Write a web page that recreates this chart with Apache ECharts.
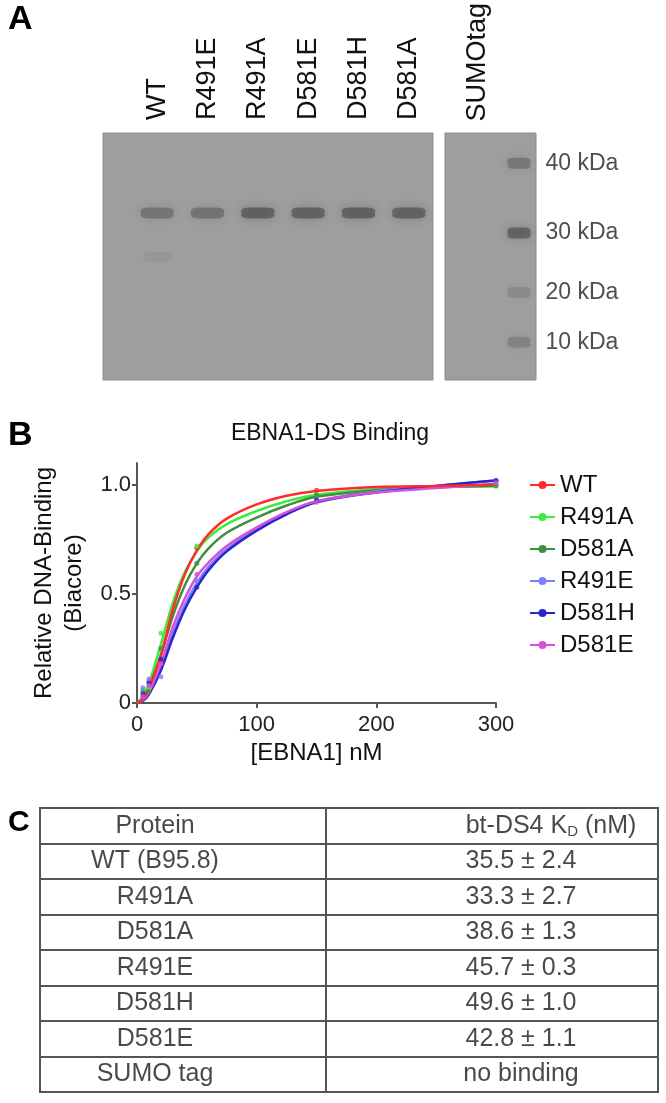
<!DOCTYPE html>
<html>
<head>
<meta charset="utf-8">
<script src="https://cdn.jsdelivr.net/npm/echarts@6.0.0/dist/echarts.min.js"></script>
<style>
  body { margin: 0; background: #fff; }
  #main { width: 666px; height: 1103px; }
</style>
</head>
<body>
<div id="main"></div>
<script>
// ---- panel A: gel ----
const lanes = ['WT', 'R491E', 'R491A', 'D581E', 'D581H', 'D581A'];
const bandPos = [32.4, 32.4, 32.4, 32.4, 32.4, 32.4];     // migration, % of gel length
const bandDensity = [0.42, 0.45, 0.62, 0.6, 0.62, 0.6];
const faintLane = 'WT';
const faintPos = 50.2;
const faintDensity = 0.08;
const rightLanes = ['SUMOtag', ''];
const markerLabels = ['40 kDa', '30 kDa', '20 kDa', '10 kDa'];
const markerPos = [11.7, 40.1, 64.4, 84.6];
const markerDensity = [0.4, 0.6, 0.22, 0.28];

// ---- panel B: binding curves ----
const names = ['WT', 'R491A', 'D581A', 'R491E', 'D581H', 'D581E'];
const conc = [5, 10, 20, 50, 150, 300];
const wtPts    = [0.03, 0.10, 0.19, 0.71, 0.975, 1.0];
const r491aPts = [0.06, 0.07, 0.32, 0.72, 0.955, 1.0];
const d581aPts = [0.05, 0.05, 0.25, 0.64, 0.955, 0.995];
const r491ePts = [0.07, 0.11, 0.12, 0.56, 0.93, 1.02];
const d581hPts = [0.04, 0.09, 0.20, 0.53, 0.93, 1.02];
const d581ePts = [0.03, 0.08, 0.18, 0.59, 0.92, 1.01];

const fitConc  = [0, 5, 10, 20, 30, 40, 50, 60, 75, 100, 125, 150, 200, 250, 300];
const wtFit    = [0, 0.02, 0.07, 0.22, 0.43, 0.59, 0.70, 0.775, 0.845, 0.91, 0.95, 0.972, 0.99, 0.995, 1.0];
const r491aFit = [0, 0.03, 0.09, 0.27, 0.46, 0.60, 0.695, 0.76, 0.82, 0.88, 0.925, 0.955, 0.98, 0.99, 0.995];
const d581aFit = [0, 0.02, 0.07, 0.22, 0.40, 0.54, 0.64, 0.71, 0.78, 0.85, 0.905, 0.945, 0.975, 0.99, 0.995];
const r491eFit = [0, 0.01, 0.045, 0.16, 0.32, 0.45, 0.55, 0.625, 0.705, 0.80, 0.87, 0.925, 0.97, 0.995, 1.02];
const d581hFit = [0, 0.01, 0.04, 0.15, 0.30, 0.43, 0.53, 0.61, 0.695, 0.79, 0.865, 0.92, 0.965, 0.995, 1.02];
const d581eFit = [0, 0.015, 0.05, 0.18, 0.35, 0.48, 0.58, 0.645, 0.72, 0.805, 0.875, 0.925, 0.965, 0.985, 1.005];

const colors = ['#ff2a2a', '#3cec3c', '#3f8f3f', '#7d7dff', '#2626cc', '#d84fd8'];
const pts = [wtPts, r491aPts, d581aPts, r491ePts, d581hPts, d581ePts];
const fits = [wtFit, r491aFit, d581aFit, r491eFit, d581hFit, d581eFit];

// ---- panel C: table ----
const tableRows = ['Protein', 'WT (B95.8)', 'R491A', 'D581A', 'R491E', 'D581H', 'D581E', 'SUMO tag'];
const kdValues = ['35.5 ± 2.4', '33.3 ± 2.7', '38.6 ± 1.3', '45.7 ± 0.3', '49.6 ± 1.0', '42.8 ± 1.1', 'no binding'];

const FONT = 'Liberation Sans, Arial, sans-serif';
const gray = a => 'rgba(55,55,55,' + a + ')';

const chart = echarts.init(document.getElementById('main'));

const hidden = { show: false };

const curveSeries = [];
names.forEach((n, i) => {
    curveSeries.push({
        name: n,
        type: 'line',
        xAxisIndex: 4, yAxisIndex: 4,
        data: fitConc.map((c, j) => [c, fits[i][j]]),
        smooth: 0.35,
        showSymbol: false,
        symbol: 'circle',
        symbolSize: 6,
        lineStyle: { width: 2.5, color: colors[i] },
        itemStyle: { color: colors[i] },
        z: n === 'WT' ? 4 : 3
    });
    curveSeries.push({
        name: n,
        type: 'scatter',
        xAxisIndex: 4, yAxisIndex: 4,
        data: conc.map((c, j) => [c, pts[i][j]]),
        symbolSize: 5,
        itemStyle: { color: colors[i] },
        z: 5
    });
});

const option = {
    animation: false,
    backgroundColor: '#fff',
    textStyle: { fontFamily: FONT },
    title: [
        { text: 'A', left: 3, top: -2, textStyle: { fontSize: 34, fontWeight: 'bold', color: '#000', fontFamily: FONT } },
        { text: 'B', left: 3, top: 414, textStyle: { fontSize: 34, fontWeight: 'bold', color: '#000', fontFamily: FONT } },
        { text: 'C', left: 3, top: 803, textStyle: { fontSize: 30, fontWeight: 'bold', color: '#000', fontFamily: FONT } },
        { text: 'EBNA1-DS Binding', left: 325, textAlign: 'center', top: 417,
          textStyle: { fontSize: 23, fontWeight: 'normal', color: '#111', fontFamily: FONT } }
    ],
    legend: {
        data: names,
        orient: 'vertical',
        left: 524, top: 468,
        itemWidth: 25, itemHeight: 10, itemGap: 8,
        textStyle: { fontSize: 24, lineHeight: 24, color: '#111', fontFamily: FONT }
    },
    grid: [
        { left: 103, top: 133, width: 330, height: 247, show: true, backgroundColor: '#9e9e9e', borderColor: '#929292', borderWidth: 1 },
        { left: 445, top: 133, width: 91, height: 247, show: true, backgroundColor: '#9e9e9e', borderColor: '#8a8a8a', borderWidth: 1 },
        { left: 132, top: 133, width: 302, height: 247 },
        { left: 457.5, top: 133, width: 82, height: 247 },
        { left: 137, right: 170, top: 463, bottom: 400 },
        { left: 40, top: 808, width: 286, height: 284, show: true, backgroundColor: '#fff', borderColor: '#555', borderWidth: 2 },
        { left: 326, top: 808, width: 332, height: 284, show: true, backgroundColor: '#fff', borderColor: '#555', borderWidth: 2 }
    ],
    xAxis: [
        { gridIndex: 0, type: 'value', show: false },
        { gridIndex: 1, type: 'value', show: false },
        { gridIndex: 2, type: 'category', data: lanes, position: 'top',
          axisLine: hidden, axisTick: hidden,
          axisLabel: { rotate: 90, margin: 13, fontSize: 27, color: '#111', interval: 0 } },
        { gridIndex: 3, type: 'category', data: rightLanes, position: 'top',
          axisLine: hidden, axisTick: hidden,
          axisLabel: { rotate: 90, margin: 13, fontSize: 27, color: '#111', interval: 0 } },
        { gridIndex: 4, type: 'value', min: 0, max: 300, interval: 100,
          name: '[EBNA1] nM', nameLocation: 'middle', nameGap: 38,
          nameTextStyle: { fontSize: 24, color: '#111' },
          axisLine: { lineStyle: { color: '#555', width: 2 } },
          axisTick: { length: 5, lineStyle: { color: '#555', width: 2 } },
          axisLabel: { fontSize: 22, color: '#222', margin: 11 },
          splitLine: hidden },
        { gridIndex: 5, type: 'category', data: ['c1'], show: false },
        { gridIndex: 6, type: 'category', data: ['c2'], show: false }
    ],
    yAxis: [
        { gridIndex: 0, type: 'value', show: false },
        { gridIndex: 1, type: 'value', show: false },
        { gridIndex: 2, type: 'value', min: 0, max: 100, inverse: true, show: false },
        { gridIndex: 3, type: 'value', min: 0, max: 100, inverse: true, show: false },
        { gridIndex: 4, type: 'value', min: 0, max: 1.1,
          name: 'Relative DNA-Binding\n(Biacore)', nameLocation: 'middle', nameGap: 40, nameRotate: 90,
          nameTextStyle: { fontSize: 24, lineHeight: 30, color: '#111', align: 'center' },
          axisLine: { show: true, lineStyle: { color: '#555', width: 2 } },
          axisTick: { show: true, length: 5, customValues: [0, 0.5, 1], lineStyle: { color: '#555', width: 2 } },
          axisLabel: { fontSize: 22, color: '#222', margin: 6, customValues: [0, 0.5, 1],
                       formatter: v => v === 0 ? '0' : v.toFixed(1) },
          splitLine: hidden },
        { gridIndex: 5, type: 'category', data: tableRows, inverse: true,
          axisLine: hidden, axisTick: { show: false, interval: 0 }, axisLabel: { show: false, interval: 0 },
          splitLine: { show: true, interval: 0, lineStyle: { color: '#555', width: 2 } } },
        { gridIndex: 6, type: 'category', data: tableRows, inverse: true,
          axisLine: hidden, axisTick: { show: false, interval: 0 }, axisLabel: { show: false, interval: 0 },
          splitLine: { show: true, interval: 0, lineStyle: { color: '#555', width: 2 } } }
    ],
    series: [
        // sample bands
        {
            type: 'scatter', xAxisIndex: 2, yAxisIndex: 2,
            symbol: 'roundRect', symbolSize: [33, 11],
            data: lanes.map((l, i) => ({
                value: [l, bandPos[i]],
                itemStyle: { color: gray(bandDensity[i]), shadowColor: gray(bandDensity[i]), shadowBlur: 10 }
            })).concat([{
                value: [faintLane, faintPos],
                symbolSize: [28, 10],
                itemStyle: { color: gray(faintDensity), shadowColor: gray(faintDensity), shadowBlur: 12 }
            }]),
            silent: true
        },
        // marker ladder
        {
            type: 'scatter', xAxisIndex: 3, yAxisIndex: 3,
            symbol: 'roundRect', symbolSize: [23, 11],
            data: markerPos.map((p, i) => ({
                name: markerLabels[i],
                value: ['', p],
                itemStyle: { color: gray(markerDensity[i]), shadowColor: gray(markerDensity[i]), shadowBlur: 10 }
            })),
            label: { show: true, position: 'right', distance: 15, formatter: '{b}',
                     fontSize: 23, color: '#222', fontFamily: FONT },
            silent: true
        },
        ...curveSeries,
        // table column 1
        {
            type: 'scatter', xAxisIndex: 5, yAxisIndex: 5,
            symbolSize: 1, itemStyle: { color: 'rgba(0,0,0,0)' },
            data: tableRows.map(r => ['c1', r]),
            label: { show: true, position: 'inside', offset: [-28, 0],
                     formatter: p => p.value[1], fontSize: 25, color: '#1a1a1a', fontFamily: FONT },
            silent: true
        },
        // table column 2 header
        {
            type: 'scatter', xAxisIndex: 6, yAxisIndex: 6,
            symbolSize: 1, itemStyle: { color: 'rgba(0,0,0,0)' },
            data: [['c2', tableRows[0]]],
            label: { show: true, position: 'inside', offset: [59, 0],
                     formatter: 'bt-DS4 K{s|D} (nM)',
                     fontSize: 25, color: '#1a1a1a', fontFamily: FONT,
                     rich: { s: { fontSize: 15, color: '#1a1a1a', fontFamily: FONT, padding: [12, 0, 0, 0] } } },
            silent: true
        },
        // table column 2 values
        {
            type: 'scatter', xAxisIndex: 6, yAxisIndex: 6,
            symbolSize: 1, itemStyle: { color: 'rgba(0,0,0,0)' },
            data: kdValues.map((v, i) => ['c2', tableRows[i + 1]]),
            label: { show: true, position: 'inside', offset: [29, 0],
                     formatter: p => kdValues[p.dataIndex], fontSize: 25, color: '#1a1a1a', fontFamily: FONT },
            silent: true
        }
    ]
};

chart.setOption(option);
</script>
</body>
</html>
